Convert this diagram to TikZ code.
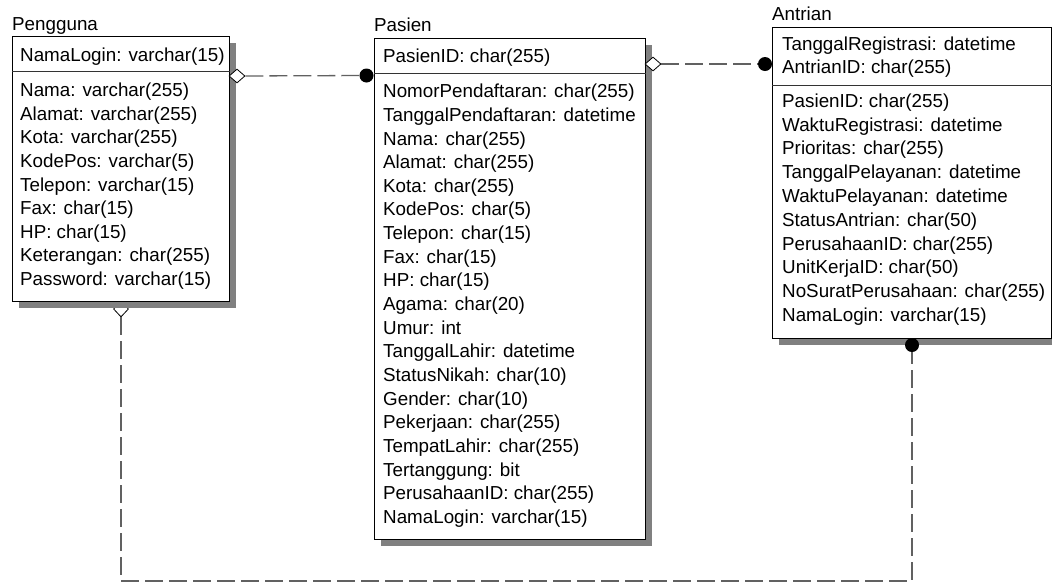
\documentclass[tikz,border=0pt]{standalone}
\usepackage{fontspec}
\setmainfont{Liberation Sans}
\usetikzlibrary{shapes.geometric}
\begin{document}
\begin{tikzpicture}[x=1pt,y=-1pt,
  tbox/.style={draw=black, fill=white, line width=0.9pt, inner sep=0pt, anchor=north west},
  shadowbox/.style={fill=black!50, draw=none, inner sep=0pt, anchor=north west},
  attr/.style={anchor=base west, inner sep=0pt, font=\fontsize{18.8}{22}\selectfont},
  divline/.style={draw=black!80, line width=0.9pt},
  rel/.style={draw=black!62, line width=1.3pt, dash pattern=on 18pt off 6pt},
  onemark/.style={circle, fill=black, draw=none, inner sep=0pt, minimum size=14pt},
  zeromark/.style={diamond, draw=black, fill=white, line width=0.8pt, inner sep=0pt}
]
\useasboundingbox (0,0) rectangle (1052,582);

% bottom diamond of Pengguna (partly under the shadow)
\node[zeromark, minimum width=15pt, minimum height=16pt] (pengB) at (121,309) {};

% shadows
\node[shadowbox, minimum width=217pt, minimum height=265pt] (pengS) at (19,43) {};
\node[shadowbox, minimum width=271pt, minimum height=501pt] (pasS) at (381,45) {};
\node[shadowbox, minimum width=279pt, minimum height=311pt] (antS) at (779,34) {};

% boxes
\node[tbox, minimum width=217pt, minimum height=265pt] (peng) at (12,36) {};
\node[tbox, minimum width=271pt, minimum height=501pt] (pas) at (374,38) {};
\node[tbox, minimum width=279pt, minimum height=311pt] (ant) at (772,27) {};

\draw[divline] (peng.west |- 0,71) -- (peng.east |- 0,71);
\draw[divline] (pas.west |- 0,73) -- (pas.east |- 0,73);
\draw[divline] (ant.west |- 0,85) -- (ant.east |- 0,85);

% titles
\node[attr] (pengT) at (12,30) {Pengguna};
\node[attr] (pasT) at (374,31.7) {Pasien};
\node[attr] (antT) at (772,20) {Antrian};

% Pengguna attributes
\node[attr] (pengK) at (20,61.7) {NamaLogin: varchar(15)};
\foreach [count=\i from 0] \t in {Nama: varchar(255), Alamat: varchar(255), Kota: varchar(255), KodePos: varchar(5), Telepon: varchar(15), Fax: char(15), HP: char(15), Keterangan: char(255), Password: varchar(15)}
  \node[attr] (peng-\i) at (20,{96.7+23.6*\i}) {\t};

% Pasien attributes
\node[attr] (pasK) at (383,62) {PasienID: char(255)};
\foreach [count=\i from 0] \t in {NomorPendaftaran: char(255), TanggalPendaftaran: datetime, Nama: char(255), Alamat: char(255), Kota: char(255), KodePos: char(5), Telepon: char(15), Fax: char(15), HP: char(15), Agama: char(20), Umur: int, TanggalLahir: datetime, StatusNikah: char(10), Gender: char(10), Pekerjaan: char(255), TempatLahir: char(255), Tertanggung: bit, PerusahaanID: char(255), NamaLogin: varchar(15)}
  \node[attr] (pas-\i) at (383,{97.7+23.65*\i}) {\t};

% Antrian attributes
\node[attr] (antK1) at (782,50) {TanggalRegistrasi: datetime};
\node[attr] (antK2) at (782,73.3) {AntrianID: char(255)};
\foreach [count=\i from 0] \t in {PasienID: char(255), WaktuRegistrasi: datetime, Prioritas: char(255), TanggalPelayanan: datetime, WaktuPelayanan: datetime, StatusAntrian: char(50), PerusahaanID: char(255), UnitKerjaID: char(50), NoSuratPerusahaan: char(255), NamaLogin: varchar(15)}
  \node[attr] (ant-\i) at (782,{107.3+23.8*\i}) {\t};

% relationship end marks
\node[zeromark, minimum width=16pt, minimum height=14pt] (pengR) at (237,76) {};
\node[onemark] (pasL) at (366.5,75.5) {};
\node[zeromark, minimum width=16pt, minimum height=14pt] (pasR) at (653,64) {};
\node[onemark] (antL) at (765,64) {};
\node[onemark] (antB) at (912,345) {};
\coordinate (k1) at (121,581);
\coordinate (k2) at (912,581);

% connectors
\draw[rel] (pengR) -- (pasL);
\draw[rel] (pasR) -- (antL);
\draw[rel] (pengB) -- (k1) -- (k2) -- (antB);
\end{tikzpicture}
\end{document}
